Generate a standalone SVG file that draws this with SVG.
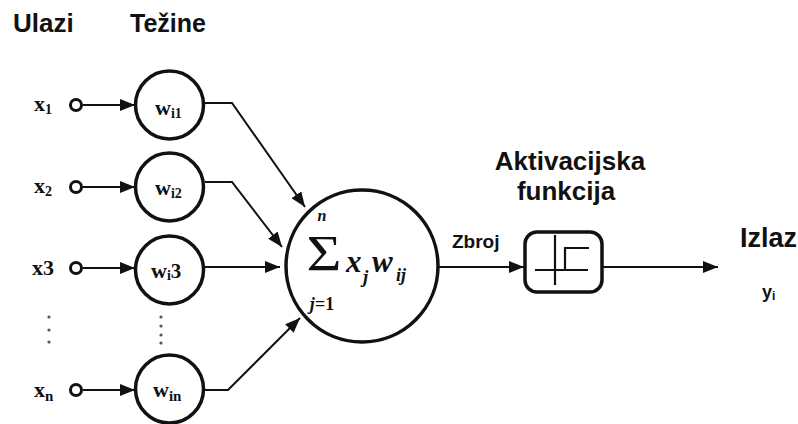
<svg xmlns="http://www.w3.org/2000/svg" width="798" height="424" viewBox="0 0 798 424">
<defs>
<marker id="arr" markerUnits="userSpaceOnUse" markerWidth="16" markerHeight="12" refX="15" refY="6" orient="auto">
<path d="M0,0 L15,6 L0,12 z" fill="#111"/>
</marker>
</defs>
<style>
.h{font-family:"Liberation Sans",Arial,sans-serif;font-weight:bold;fill:#111}
.s{font-family:"Liberation Serif","Times New Roman",serif;fill:#111}
.b{font-weight:bold}
.it{font-style:italic}
.node{fill:#fff;stroke:#111;stroke-width:3.5}
.in{fill:#fff;stroke:#111;stroke-width:3}
.c{fill:none;stroke:#111;stroke-width:2}
.dot{fill:#555}
</style>
<rect width="798" height="424" fill="#fff"/>
<g id="headings">
<text class="h" x="13" y="32" font-size="26">Ulazi</text>
<text class="h" x="130" y="32" font-size="25">Težine</text>
<text class="h" x="570" y="170" font-size="26" text-anchor="middle">Aktivacijska</text>
<text class="h" x="566" y="200" font-size="26" text-anchor="middle">funkcija</text>
<text class="h" x="740" y="247" font-size="27">Izlaz</text>
</g>
<g id="connectors">
<line class="c" x1="83" y1="105" x2="135" y2="105" marker-end="url(#arr)"/>
<line class="c" x1="83" y1="187" x2="135" y2="187" marker-end="url(#arr)"/>
<line class="c" x1="83" y1="268" x2="135" y2="268" marker-end="url(#arr)"/>
<line class="c" x1="83" y1="390" x2="135" y2="390" marker-end="url(#arr)"/>
<polyline class="c" points="204,103 232,103 305,207" marker-end="url(#arr)"/>
<polyline class="c" points="205,182 232,182 282,247" marker-end="url(#arr)"/>
<line class="c" x1="204" y1="267" x2="280" y2="267" marker-end="url(#arr)"/>
<polyline class="c" points="203,390 228,390 300,318" marker-end="url(#arr)"/>
<line class="c" x1="439" y1="267" x2="524" y2="267" marker-end="url(#arr)"/>
<line class="c" x1="603" y1="267" x2="718" y2="267" marker-end="url(#arr)"/>
</g>
<g id="input1">
<circle class="in" cx="76" cy="105" r="5.5"/>
<text class="s b" x="34" y="111" font-size="22">x<tspan font-size="14" dy="3">1</tspan></text>
</g>
<g id="input2">
<circle class="in" cx="76" cy="187" r="5.5"/>
<text class="s b" x="34" y="193" font-size="22">x<tspan font-size="14" dy="3">2</tspan></text>
</g>
<g id="input3">
<circle class="in" cx="76" cy="268" r="5.5"/>
<text class="s b" x="32" y="275" font-size="22">x3</text>
</g>
<g id="inputn">
<circle class="in" cx="76" cy="390" r="5.5"/>
<text class="s b" x="34" y="397" font-size="22">x<tspan font-size="15" dy="4">n</tspan></text>
</g>
<g id="dots">
<circle class="dot" cx="49" cy="317" r="1.6"/>
<circle class="dot" cx="49" cy="330" r="1.6"/>
<circle class="dot" cx="49" cy="342" r="1.6"/>
<circle class="dot" cx="161" cy="317" r="1.6"/>
<circle class="dot" cx="161" cy="326" r="1.6"/>
<circle class="dot" cx="161" cy="335" r="1.6"/>
<circle class="dot" cx="161" cy="343" r="1.6"/>
</g>
<g id="w1">
<circle class="node" cx="169.5" cy="105" r="34"/>
<text class="s b" x="155" y="115" font-size="22">w<tspan font-size="14" dy="3">i1</tspan></text>
</g>
<g id="w2">
<circle class="node" cx="169.5" cy="187" r="34"/>
<text class="s b" x="155" y="195" font-size="22">w<tspan font-size="14" dy="3">i2</tspan></text>
</g>
<g id="w3">
<circle class="node" cx="169.5" cy="270" r="34"/>
<text class="s b" x="151" y="278" font-size="22">w<tspan font-size="14" dy="2">i</tspan><tspan font-size="21" dy="-2">3</tspan></text>
</g>
<g id="wn">
<circle class="node" cx="169.5" cy="389" r="34"/>
<text class="s b" x="153" y="397" font-size="22">w<tspan font-size="15" dy="4">in</tspan></text>
</g>
<g id="sum">
<circle class="node" cx="362" cy="266" r="76"/>
<text class="s" transform="translate(324,270) scale(1.2,1)" font-size="50" text-anchor="middle">Σ</text>
<text class="s it b" x="322" y="221" font-size="16" text-anchor="middle">n</text>
<text class="s b" x="322" y="310" font-size="18" text-anchor="middle"><tspan font-style="italic">j</tspan>=1</text>
<text class="s it b" x="346" y="272" font-size="31">x</text>
<text class="s it b" x="363" y="283" font-size="19">j</text>
<text class="s it b" x="372" y="272" font-size="31">w</text>
<text class="s it b" x="396" y="281" font-size="18">ij</text>
</g>
<g id="zbroj">
<text class="h" x="452" y="248" font-size="19">Zbroj</text>
</g>
<g id="activation">
<rect class="node" x="525" y="232" width="77" height="60" rx="12"/>
<g stroke="#111" stroke-width="2.2" fill="none">
<line x1="535" y1="270" x2="588" y2="270"/>
<line x1="555" y1="235" x2="555" y2="285"/>
<polyline points="565,270 565,248 589,248"/>
</g>
</g>
<g id="output">
<text class="h" x="762" y="298" font-size="18">y<tspan font-size="12" dy="2">i</tspan></text>
</g>
</svg>
